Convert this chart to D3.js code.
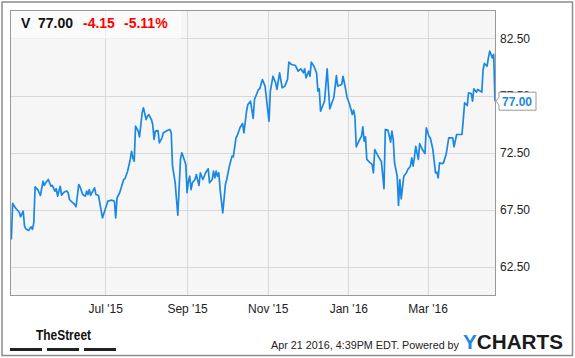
<!DOCTYPE html>
<html><head><meta charset="utf-8">
<script src="https://cdn.jsdelivr.net/npm/d3@7"></script>
<style>body{margin:0;background:#fff}svg{display:block;font-family:"Liberation Sans",Arial,sans-serif}</style>
</head><body>
<script>
const dates = ["2015-04-21","2015-04-22","2015-04-24","2015-04-27","2015-04-28","2015-04-30","2015-05-01","2015-05-02","2015-05-04","2015-05-06","2015-05-07","2015-05-08","2015-05-09","2015-05-11","2015-05-13","2015-05-15","2015-05-16","2015-05-17","2015-05-19","2015-05-21","2015-05-22","2015-05-24","2015-05-25","2015-05-26","2015-05-28","2015-05-29","2015-05-31","2015-06-02","2015-06-03","2015-06-04","2015-06-06","2015-06-08","2015-06-09","2015-06-11","2015-06-12","2015-06-14","2015-06-16","2015-06-17","2015-06-18","2015-06-19","2015-06-20","2015-06-21","2015-06-23","2015-06-24","2015-06-26","2015-06-27","2015-06-29","2015-07-01","2015-07-03","2015-07-06","2015-07-08","2015-07-09","2015-07-10","2015-07-12","2015-07-15","2015-07-16","2015-07-18","2015-07-20","2015-07-21","2015-07-22","2015-07-23","2015-07-24","2015-07-26","2015-07-27","2015-07-29","2015-07-30","2015-08-01","2015-08-02","2015-08-03","2015-08-05","2015-08-06","2015-08-07","2015-08-08","2015-08-10","2015-08-11","2015-08-13","2015-08-14","2015-08-17","2015-08-19","2015-08-20","2015-08-21","2015-08-23","2015-08-24","2015-08-25","2015-08-27","2015-08-28","2015-08-29","2015-08-31","2015-09-01","2015-09-02","2015-09-03","2015-09-04","2015-09-05","2015-09-07","2015-09-08","2015-09-10","2015-09-11","2015-09-12","2015-09-13","2015-09-15","2015-09-17","2015-09-18","2015-09-20","2015-09-21","2015-09-22","2015-09-23","2015-09-24","2015-09-25","2015-09-26","2015-09-28","2015-09-30","2015-10-01","2015-10-03","2015-10-05","2015-10-06","2015-10-08","2015-10-09","2015-10-11","2015-10-13","2015-10-14","2015-10-16","2015-10-17","2015-10-19","2015-10-21","2015-10-22","2015-10-25","2015-10-26","2015-10-28","2015-10-30","2015-11-02","2015-11-03","2015-11-05","2015-11-07","2015-11-08","2015-11-10","2015-11-12","2015-11-14","2015-11-16","2015-11-17","2015-11-19","2015-11-22","2015-11-24","2015-11-26","2015-11-28","2015-11-29","2015-11-30","2015-12-02","2015-12-03","2015-12-04","2015-12-06","2015-12-08","2015-12-09","2015-12-10","2015-12-11","2015-12-13","2015-12-14","2015-12-16","2015-12-17","2015-12-18","2015-12-20","2015-12-21","2015-12-23","2015-12-24","2015-12-25","2015-12-27","2015-12-28","2015-12-30","2015-12-31","2016-01-02","2016-01-04","2016-01-05","2016-01-06","2016-01-07","2016-01-09","2016-01-11","2016-01-12","2016-01-13","2016-01-14","2016-01-15","2016-01-17","2016-01-19","2016-01-20","2016-01-21","2016-01-23","2016-01-25","2016-01-26","2016-01-28","2016-01-29","2016-01-31","2016-02-02","2016-02-03","2016-02-04","2016-02-05","2016-02-07","2016-02-08","2016-02-09","2016-02-10","2016-02-12","2016-02-14","2016-02-15","2016-02-17","2016-02-18","2016-02-19","2016-02-20","2016-02-21","2016-02-23","2016-02-24","2016-02-26","2016-02-28","2016-02-29","2016-03-02","2016-03-03","2016-03-05","2016-03-07","2016-03-08","2016-03-09","2016-03-10","2016-03-12","2016-03-13","2016-03-15","2016-03-17","2016-03-19","2016-03-20","2016-03-21","2016-03-23","2016-03-24","2016-03-27","2016-03-28","2016-03-29","2016-03-31","2016-04-01","2016-04-03","2016-04-04","2016-04-05","2016-04-07","2016-04-08","2016-04-10","2016-04-11","2016-04-12","2016-04-13","2016-04-15","2016-04-16","2016-04-17","2016-04-19","2016-04-20","2016-04-21"];
const prices = [64.87,68.03,67.65,67.26,66.86,67.35,66.04,65.80,65.66,65.98,65.75,66.33,69.49,69.25,68.73,69.98,69.61,69.84,70.13,69.54,69.61,69.11,69.32,68.67,69.54,68.76,69.03,69.11,68.97,68.38,68.14,67.94,67.74,69.69,69.49,68.82,68.67,69.11,68.82,69.25,68.73,68.97,69.40,68.82,68.73,68.03,66.77,67.50,68.23,68.32,68.23,66.77,68.53,68.97,70.13,70.19,70.86,71.89,72.61,72.03,71.74,74.81,74.37,73.87,75.98,76.42,75.39,75.68,75.83,75.39,74.96,73.64,74.37,74.43,73.35,73.79,74.23,74.43,74.52,74.23,71.30,69.84,68.38,67.00,71.89,72.47,72.18,71.45,68.97,69.98,70.42,69.25,69.84,70.13,70.57,69.61,70.72,70.42,70.13,70.72,71.07,69.84,70.13,70.86,70.28,70.86,70.42,70.72,69.25,67.21,69.69,70.13,71.30,72.18,72.12,73.79,73.99,74.67,75.04,74.23,76.12,76.71,77.00,75.50,77.15,78.03,78.10,78.90,78.32,75.25,77.88,79.19,78.61,78.03,79.49,78.17,78.32,78.90,80.42,80.22,80.13,79.63,79.84,79.49,79.84,79.05,79.63,79.19,80.42,80.07,79.49,77.88,78.09,76.12,76.71,77.00,79.84,78.03,76.33,77.00,77.30,79.25,78.32,78.38,78.46,79.19,78.03,77.35,76.71,75.83,76.21,75.63,73.00,73.49,73.93,74.75,73.49,73.87,71.89,71.65,71.45,70.72,72.76,72.32,71.89,71.74,69.32,74.52,74.46,73.41,74.37,73.64,71.59,70.42,67.85,70.13,68.44,70.42,70.72,71.01,71.30,72.03,71.30,72.03,73.05,71.89,73.29,72.76,72.41,74.67,73.93,73.79,72.76,70.72,70.77,70.28,71.59,71.53,71.59,72.32,73.79,73.79,73.79,73.00,74.08,74.08,74.08,75.39,76.86,76.62,77.74,77.68,77.00,78.09,77.79,78.03,77.88,77.79,79.78,80.31,80.07,80.80,81.39,80.80,81.10,77.00];
const yTicks = [62.5, 67.5, 72.5, 77.5, 82.5];
const xTicks = ["2015-07-01","2015-09-01","2015-11-01","2016-01-01","2016-03-01"];
const header = {symbol:"V", last:"77.00", change:"-4.15", pct:"-5.11%"};
const lastLabel = "77.00";
const footerText = "Apr 21 2016, 4:39PM EDT.  Powered by";

const W=575,H=358;
const parse=d3.timeParse("%Y-%m-%d");
const data=dates.map((d,i)=>({date:parse(d),v:prices[i]}));
const L=10,R=495,T=10,B=295;
const x=d3.scaleTime().domain([parse("2015-04-20"),parse("2016-04-21")]).range([L,R]);
const y=d3.scaleLinear().domain([60,85]).range([B,T]);
const blue="#1a88e3";

const svg=d3.select("body").append("svg").attr("width",W).attr("height",H);
svg.append("rect").attr("x",2).attr("y",2).attr("width",W-4.5).attr("height",H-4.5).attr("fill","#fff").attr("stroke","#8c8c8c").attr("stroke-width",1.5);
svg.append("rect").attr("x",L+0.5).attr("y",T+0.5).attr("width",R-L).attr("height",B-T).attr("fill","#f6f6f6");

// gridlines
svg.append("g").selectAll("line").data(yTicks).join("line")
 .attr("x1",L).attr("x2",R).attr("y1",d=>Math.round(y(d))+0.5).attr("y2",d=>Math.round(y(d))+0.5)
 .attr("stroke","#d8d8d8").attr("stroke-width",1);
svg.append("g").selectAll("line").data(xTicks).join("line")
 .attr("x1",d=>Math.round(x(parse(d)))+0.5).attr("x2",d=>Math.round(x(parse(d)))+0.5).attr("y1",T).attr("y2",B)
 .attr("stroke","#d8d8d8").attr("stroke-width",1);

// header box
svg.append("rect").attr("x",L+1).attr("y",T+1).attr("width",170).attr("height",28).attr("fill","#fff").attr("opacity",0.6);

// line
svg.append("path").datum(data).attr("fill","none").attr("stroke",blue).attr("stroke-width",1.7).attr("stroke-linejoin","round")
 .attr("d",d3.line().x(d=>x(d.date)).y(d=>y(d.v)));

// border
svg.append("rect").attr("x",L+0.5).attr("y",T+0.5).attr("width",R-L).attr("height",B-T).attr("fill","none").attr("stroke","#999");

// right axis
const ya=svg.append("g").attr("transform",`translate(${R},0)`).call(d3.axisRight(y).tickValues(yTicks).tickSize(0).tickPadding(5).tickFormat(d3.format(".2f")));
ya.select(".domain").remove();
ya.selectAll("text").attr("font-size",12).attr("fill","#222").attr("font-family","Liberation Sans, Arial, sans-serif");

// bottom axis
const xa=svg.append("g").attr("transform",`translate(0,${B})`).call(d3.axisBottom(x).tickValues(xTicks.map(parse)).tickSize(0).tickPadding(9).tickFormat(d3.timeFormat("%b '%y")));
xa.select(".domain").remove();
xa.selectAll("text").attr("font-size",12).attr("fill","#222").attr("font-family","Liberation Sans, Arial, sans-serif");

// last value label
const ly=y(prices[prices.length-1]);
const g=svg.append("g");
g.append("path").attr("d",`M${R+4},${ly-9}H${R+41}V${ly+9}H${R+4}V${ly+4}L${R+1},${ly}L${R+4},${ly-4}Z`)
 .attr("fill","#fff").attr("stroke","#999");
g.append("text").attr("x",R+7).attr("y",ly+4.5).attr("font-size",12).attr("font-weight","bold").attr("fill",blue).text(lastLabel);

// header text
const ht=svg.append("text").attr("y",28).attr("font-size",14).attr("font-weight","bold");
ht.append("tspan").attr("x",21).attr("fill","#111").text(header.symbol);
ht.append("tspan").attr("x",38).attr("fill","#111").text(header.last);
ht.append("tspan").attr("x",83).attr("fill","#f00").text(header.change);
ht.append("tspan").attr("x",124).attr("fill","#f00").text(header.pct);

// footer: TheStreet
svg.append("text").attr("x",36).attr("y",340).attr("font-size",15).attr("font-weight","bold").attr("fill","#111")
 .attr("textLength",55).attr("lengthAdjust","spacingAndGlyphs").text("TheStreet");
svg.append("g").selectAll("rect").data([[10,32],[47,32],[84,32]]).join("rect")
 .attr("x",d=>d[0]).attr("y",348).attr("width",d=>d[1]).attr("height",3).attr("fill","#222");

svg.append("text").attr("x",271).attr("y",349).attr("font-size",11).attr("fill","#222")
 .attr("textLength",188).attr("lengthAdjust","spacingAndGlyphs").text(footerText);
const yc=svg.append("text").attr("x",463).attr("y",349).attr("font-size",20).attr("font-weight","bold")
 .attr("textLength",100).attr("lengthAdjust","spacingAndGlyphs");
yc.append("tspan").attr("fill",blue).text("Y");
yc.append("tspan").attr("fill","#1b1b1b").text("CHARTS");
</script>
</body></html>
